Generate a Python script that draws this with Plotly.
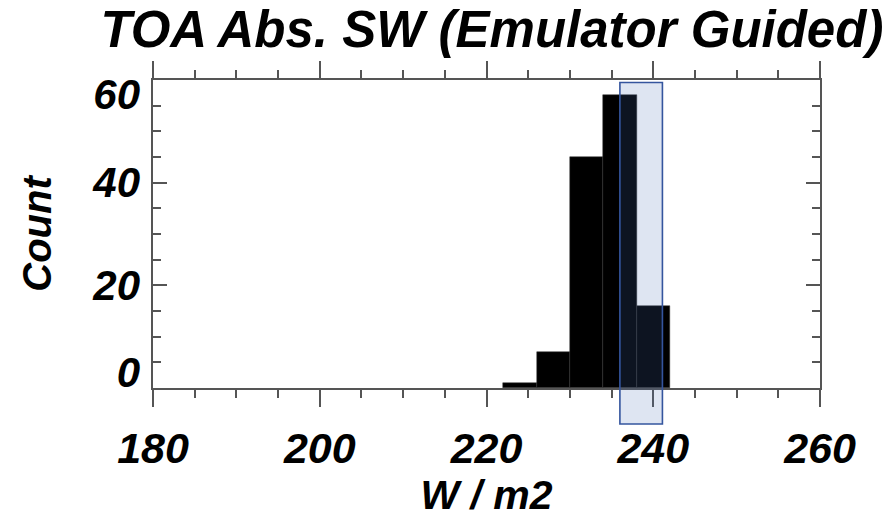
import plotly.graph_objects as go

# ---- data ----
bin_edges = [222, 226, 230, 234, 238, 242]
counts = [1, 7, 45, 57, 16]
band_x = [236, 241.1]          # highlighted (emulator guided) range
band_y = [-7, 59.5]            # vertical extent of highlight in count units
x_ticks = [180, 200, 220, 240, 260]
y_ticks = [0, 20, 40, 60]
y_tick_text = ["0", "20", "40", "60"]
y_label_pos = [3.0, 20, 40, 57.3]   # label anchor positions (clamped inside frame)

x_range = [180, 260]
y_range = [0, 60]

FONT = "Liberation Sans, Arial"
AX = "#555555"

centers = [(a + b) / 2 for a, b in zip(bin_edges[:-1], bin_edges[1:])]
widths = [b - a for a, b in zip(bin_edges[:-1], bin_edges[1:])]

fig = go.Figure()
fig.add_trace(go.Bar(x=centers, y=counts, width=widths,
                     marker=dict(color="black", line=dict(color="#333333", width=0.5)),
                     showlegend=False, hoverinfo="x+y"))
# invisible trace on label axis
fig.add_trace(go.Scatter(x=[None], y=[None], yaxis="y2", showlegend=False))

def to_paper(v):
    return (v - y_range[0]) / (y_range[1] - y_range[0])

fig.add_shape(type="rect", xref="x", yref="paper",
              x0=band_x[0], x1=band_x[1], y0=to_paper(band_y[0]), y1=to_paper(band_y[1]),
              fillcolor="rgba(74,111,182,0.18)",
              line=dict(color="rgb(52,85,158)", width=1.6), layer="above")

fig.update_layout(
    width=896, height=526,
    margin=dict(l=152.5, r=76, t=80, b=138),
    paper_bgcolor="white", plot_bgcolor="white",
    font=dict(family=FONT, color="black"),
    title=dict(text="<b><i>TOA Abs. SW (Emulator Guided)</i></b>",
               font=dict(family=FONT, size=51, color="black"),
               x=0.549, xanchor="center", xref="container",
               y=0.978, yanchor="top", yref="container"),
    bargap=0,
    xaxis=dict(range=x_range, tickvals=x_ticks,
               ticktext=[f"<b><i>{v}</i></b>" for v in x_ticks],
               ticks="outside", ticklen=17, tickwidth=1.5, tickcolor=AX,
               minor=dict(dtick=5, ticks="outside", ticklen=8, tickwidth=1.5, tickcolor=AX),
               showline=True, linecolor=AX, linewidth=2, mirror="ticks",
               showgrid=False, zeroline=False,
               tickfont=dict(family=FONT, size=43, color="black"),
               ticklabelstandoff=4,
               title=dict(text="<b><i>W / m2</i></b>", font=dict(family=FONT, size=41, color="black"),
                          standoff=4)),
    yaxis=dict(range=y_range, tickvals=y_ticks, showticklabels=False,
               ticks="inside", ticklen=14, tickwidth=1.5, tickcolor=AX,
               minor=dict(dtick=5, ticks="inside", ticklen=8, tickwidth=1.5, tickcolor=AX),
               showline=True, linecolor=AX, linewidth=2, mirror="ticks",
               showgrid=False, zeroline=False),
    yaxis2=dict(range=y_range, overlaying="y", side="left", tickvals=y_label_pos,
                ticktext=[f"<b><i>{t}</i></b>" for t in y_tick_text],
                ticks="", showgrid=False, zeroline=False, showline=False,
                tickfont=dict(family=FONT, size=42, color="black"),
                ticklabelstandoff=12,
                title=dict(text="<b><i>Count</i></b>", font=dict(family=FONT, size=40, color="black"),
                           standoff=28)),
)

fig.write_html("out.html")
